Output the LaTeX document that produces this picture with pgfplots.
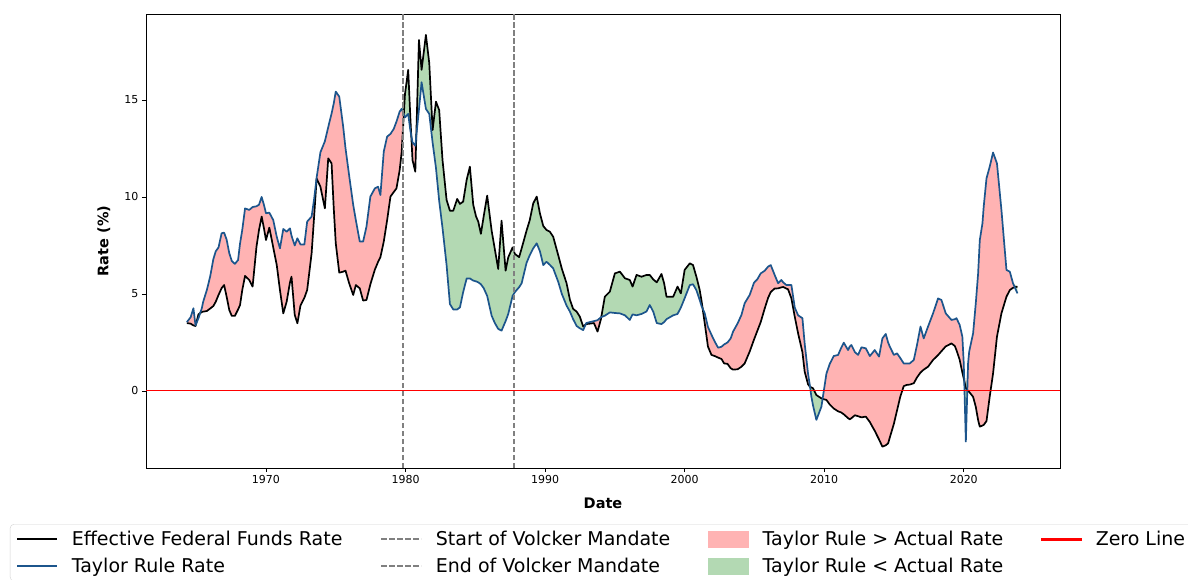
\documentclass[border=0pt]{standalone}
\usepackage{fontspec}
\setmainfont{DejaVu Sans}
\usepackage{pgfplots}
\pgfplotsset{compat=1.18}
\usepgfplotslibrary{fillbetween}
\usepackage{pgfplotstable}
\definecolor{taylor}{RGB}{28,85,140}
\definecolor{redfill}{RGB}{255,179,179}
\definecolor{greenfill}{RGB}{179,217,179}
\definecolor{legframe}{RGB}{210,210,210}
\definecolor{zeroline}{RGB}{255,0,0}
\pgfplotstableread{
d e t
1964.33 3.50 3.55
1964.60 3.47 3.80
1964.80 3.38 4.26
1964.95 3.35 3.38
1965.16 3.95 3.75
1965.40 4.07 4.26
1965.50 4.09 4.60
1965.76 4.12 5.20
1966.00 4.25 5.90
1966.23 4.38 6.80
1966.40 4.60 7.20
1966.60 4.95 7.40
1966.82 5.30 8.13
1967.00 5.46 8.16
1967.18 4.86 7.80
1967.37 4.17 7.10
1967.55 3.87 6.70
1967.77 3.87 6.55
1968.00 4.20 6.75
1968.14 4.43 7.60
1968.30 5.20 8.30
1968.50 5.93 9.41
1968.80 5.72 9.33
1969.04 5.38 9.48
1969.32 7.44 9.52
1969.50 8.30 9.60
1969.69 8.99 10.00
1969.85 8.40 9.60
1970.00 7.78 9.16
1970.24 8.42 9.19
1970.52 7.40 8.81
1970.77 6.50 7.95
1971.00 5.20 7.35
1971.24 4.00 8.35
1971.48 4.60 8.21
1971.72 5.60 8.38
1971.83 5.89 8.00
1972.06 3.92 7.50
1972.25 3.49 7.87
1972.47 4.40 7.55
1972.75 4.80 7.55
1972.95 5.20 8.73
1973.27 7.10 8.99
1973.45 9.00 9.90
1973.63 10.95 11.00
1973.90 10.53 12.30
1974.22 9.41 12.87
1974.46 11.99 13.60
1974.70 11.73 14.30
1974.85 9.50 14.80
1975.00 7.61 15.43
1975.25 6.10 15.17
1975.53 6.15 13.63
1975.70 6.20 12.50
1975.96 5.55 11.10
1976.25 4.95 9.59
1976.44 5.46 8.80
1976.72 5.29 7.70
1976.96 4.66 7.70
1977.20 4.69 8.47
1977.48 5.50 10.02
1977.80 6.25 10.44
1978.03 6.65 10.53
1978.20 6.90 10.10
1978.44 7.70 12.34
1978.68 8.80 13.11
1978.92 10.02 13.25
1979.15 10.25 13.50
1979.35 10.44 13.88
1979.58 11.39 14.40
1979.72 12.30 14.54
1979.96 15.30 14.10
1980.19 16.55 14.28
1980.35 14.00 13.40
1980.50 11.90 12.82
1980.70 11.30 12.64
1980.96 18.09 14.50
1981.15 16.55 15.91
1981.46 18.35 14.54
1981.70 16.89 14.28
1981.94 13.45 12.80
1982.18 14.91 11.50
1982.41 14.48 9.80
1982.65 11.90 8.40
1982.94 9.85 6.50
1983.18 9.29 4.48
1983.42 9.29 4.20
1983.70 9.90 4.20
1983.90 9.64 4.31
1984.13 9.76 5.10
1984.38 10.88 5.80
1984.61 11.56 5.80
1984.85 9.60 5.69
1985.05 9.00 5.65
1985.21 8.73 5.60
1985.40 8.10 5.50
1985.60 9.00 5.30
1985.85 10.07 4.90
1986.17 8.26 3.88
1986.40 7.30 3.50
1986.64 6.29 3.20
1986.88 8.78 3.11
1987.17 6.20 3.60
1987.36 6.89 3.97
1987.67 7.40 4.90
1987.84 7.06 5.10
1988.14 6.90 5.35
1988.32 7.35 5.55
1988.67 8.26 6.60
1988.90 8.80 7.00
1989.15 9.67 7.35
1989.40 10.02 7.61
1989.63 9.15 7.20
1989.87 8.50 6.49
1990.10 8.30 6.66
1990.34 8.21 6.50
1990.58 7.95 6.32
1990.94 7.00 5.63
1991.20 6.30 5.00
1991.54 5.55 4.40
1991.78 4.70 4.09
1992.01 4.23 3.70
1992.26 4.09 3.35
1992.49 3.83 3.23
1992.73 3.32 3.14
1992.95 3.45 3.50
1993.20 3.47 3.55
1993.50 3.50 3.60
1993.76 3.06 3.65
1994.00 3.70 3.80
1994.28 4.86 3.88
1994.64 5.12 4.05
1995.00 6.06 4.02
1995.36 6.15 4.00
1995.72 5.81 3.90
1996.07 5.72 3.66
1996.27 5.38 3.95
1996.55 5.98 3.90
1996.91 5.89 3.97
1997.27 5.98 4.10
1997.50 5.98 4.43
1997.75 5.75 4.09
1998.00 5.60 3.50
1998.34 6.03 3.45
1998.53 5.55 3.55
1998.70 4.86 3.70
1999.18 4.86 3.90
1999.49 5.38 3.97
1999.73 5.03 4.30
2000.00 6.24 4.78
2000.37 6.58 5.46
2000.60 6.49 5.50
2000.84 5.89 5.20
2001.08 5.20 4.69
2001.20 4.69 4.40
2001.44 3.49 4.00
2001.67 2.29 3.30
2001.92 1.86 2.90
2002.16 1.80 2.54
2002.40 1.72 2.23
2002.64 1.65 2.28
2002.83 1.42 2.40
2003.07 1.40 2.50
2003.30 1.17 2.71
2003.47 1.10 3.06
2003.80 1.12 3.49
2004.07 1.25 3.92
2004.30 1.42 4.52
2004.66 2.03 4.95
2004.97 2.65 5.58
2005.21 3.10 5.76
2005.45 3.55 6.06
2005.74 4.26 6.20
2005.98 4.80 6.41
2006.17 5.10 6.49
2006.45 5.28 5.98
2006.70 5.29 5.55
2006.93 5.34 5.72
2007.06 5.36 5.60
2007.29 5.28 5.46
2007.41 5.24 5.46
2007.65 4.77 5.46
2007.89 3.83 4.30
2008.13 2.97 3.90
2008.44 2.00 3.75
2008.60 1.00 2.45
2008.84 0.35 0.90
2008.97 0.22 0.30
2009.08 0.18 -0.29
2009.20 0.14 -0.75
2009.44 -0.21 -1.49
2009.80 -0.38 -0.81
2009.95 -0.42 -0.10
2010.16 -0.46 0.90
2010.40 -0.70 1.40
2010.68 -0.90 1.80
2011.00 -1.05 1.86
2011.20 -1.10 2.20
2011.40 -1.20 2.49
2011.71 -1.40 2.11
2011.84 -1.46 2.30
2011.95 -1.40 2.37
2012.20 -1.25 2.00
2012.43 -1.30 1.86
2012.67 -1.36 2.25
2012.98 -1.32 2.20
2013.27 -1.60 1.80
2013.50 -1.90 2.00
2013.62 -2.05 2.11
2013.93 -2.50 1.77
2014.17 -2.87 2.71
2014.41 -2.80 2.94
2014.58 -2.70 2.50
2014.70 -2.40 2.29
2014.99 -1.70 1.86
2015.22 -1.00 1.94
2015.45 -0.30 1.70
2015.70 0.25 1.42
2015.90 0.31 1.42
2016.13 0.33 1.42
2016.42 0.40 1.60
2016.65 0.70 2.37
2016.90 0.95 3.32
2017.13 1.10 2.71
2017.44 1.25 3.32
2017.80 1.60 4.00
2018.16 1.85 4.77
2018.40 2.05 4.69
2018.71 2.30 4.00
2019.12 2.45 3.66
2019.36 2.32 3.70
2019.48 2.10 3.75
2019.71 1.60 3.40
2019.90 0.95 2.80
2020.00 0.65 1.42
2020.15 0.15 -2.61
2020.31 0.00 1.42
2020.39 -0.05 2.03
2020.67 -0.30 2.97
2020.86 -0.81 4.50
2021.03 -1.50 6.06
2021.15 -1.84 7.78
2021.34 -1.78 8.64
2021.43 -1.75 9.50
2021.63 -1.55 10.96
2021.86 -0.29 11.56
2022.10 0.90 12.29
2022.38 2.80 11.73
2022.70 4.00 9.33
2023.06 4.86 6.24
2023.30 5.20 6.15
2023.53 5.32 5.55
2023.85 5.38 5.03
}\data
\begin{document}
\begin{tikzpicture}
\begin{axis}[
  scale only axis, width=914pt, height=454pt,
  xmin=1961.4, xmax=2026.9, ymin=-3.97, ymax=19.43,
  xtick={1970,1980,1990,2000,2010,2020},
  ytick={0,5,10,15},
  /pgf/number format/1000 sep={},
  /pgf/number format/assume math mode=true,
  tick label style={font=\fontsize{11}{13}\selectfont},
  tick align=outside, tick pos=left, major tick length=4pt,
  every tick/.style={black, line width=0.8pt},
  axis line style={line width=0.8pt},
  xlabel={Date}, ylabel={Rate (\%)},
  every axis x label/.style={at={(axis description cs:0.5,-0.077)}, anchor=center, font=\fontsize{14.5}{17}\selectfont\bfseries},
  every axis y label/.style={at={(axis description cs:-0.046,0.5)}, rotate=90, anchor=center, font=\fontsize{14.5}{17}\selectfont\bfseries},
  legend columns=4,
  legend cell align=left,
  legend style={at={(axis description cs:-0.1488,-0.1233)}, anchor=north west,
    draw=legframe, rounded corners=4pt, fill=white,
    font=\fontsize{19}{22}\selectfont,
    inner xsep=6pt, inner ysep=5pt, row sep=7pt,
    /tikz/every odd column/.append style={column sep=12pt},
    /tikz/every even column/.append style={column sep=36pt}},
]
\addplot[black, line width=1.7pt, line join=round, name path=E, forget plot] table[x=d,y=e]{\data};
\addplot[taylor, line width=1.7pt, line join=round, name path=T, forget plot] table[x=d,y=t]{\data};
\addplot[draw=none, name path=M, forget plot] table[x=d, y expr={max(\thisrow{e},\thisrow{t})}]{\data};
\addplot[redfill, forget plot] fill between[of=E and M];
\addplot[greenfill, forget plot] fill between[of=T and M];
\addplot[zeroline, line width=1pt, forget plot] coordinates {(1961.4,0) (2026.9,0)};
\addplot[gray, line width=1.4pt, dash pattern=on 5.5pt off 2.5pt, forget plot] coordinates {(1979.81,-3.97) (1979.81,19.43)};
\addplot[gray, line width=1.4pt, dash pattern=on 5.5pt off 2.5pt, forget plot] coordinates {(1987.76,-3.97) (1987.76,19.43)};
\addlegendimage{legend image code/.code={\draw[black, line width=1.7pt, sharp corners] (0pt,0pt) -- (40pt,0pt);}}
\addlegendentry{Effective Federal Funds Rate}
\addlegendimage{legend image code/.code={\draw[gray, line width=1.4pt, dash pattern=on 5.5pt off 2.5pt, sharp corners] (0pt,0pt) -- (40pt,0pt);}}
\addlegendentry{Start of Volcker Mandate}
\addlegendimage{legend image code/.code={\fill[redfill, sharp corners] (0pt,-8pt) rectangle (40pt,8pt);}}
\addlegendentry{Taylor Rule > Actual Rate}
\addlegendimage{legend image code/.code={\fill[zeroline, sharp corners] (0pt,-0.8pt) rectangle (40pt,0.8pt);}}
\addlegendentry{Zero Line}
\addlegendimage{legend image code/.code={\draw[taylor, line width=1.7pt, sharp corners] (0pt,0pt) -- (40pt,0pt);}}
\addlegendentry{Taylor Rule Rate}
\addlegendimage{legend image code/.code={\draw[gray, line width=1.4pt, dash pattern=on 5.5pt off 2.5pt, sharp corners] (0pt,0pt) -- (40pt,0pt);}}
\addlegendentry{End of Volcker Mandate}
\addlegendimage{legend image code/.code={\fill[greenfill, sharp corners] (0pt,-8pt) rectangle (40pt,8pt);}}
\addlegendentry{Taylor Rule < Actual Rate}
\coordinate (bbsw) at (axis description cs:-0.1597,-0.2445);
\coordinate (bbne) at (axis description cs:1.1400,1.0308);
\end{axis}
\pgfresetboundingbox
\useasboundingbox (bbsw) rectangle (bbne);
\end{tikzpicture}
\end{document}
